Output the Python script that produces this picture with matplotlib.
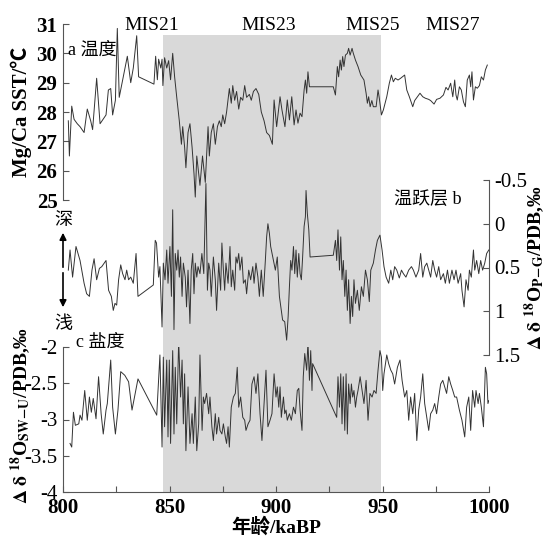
import numpy as np
import matplotlib.pyplot as plt
from matplotlib.ticker import MultipleLocator
from matplotlib.patches import FancyArrowPatch

plt.rcParams['font.family'] = ['Liberation Serif', 'Noto Sans CJK SC', 'DejaVu Sans']
plt.rcParams['mathtext.fontset'] = 'stix'

# a: Mg/Ca SST (deg C)
sst_age = [802.5, 803.0, 804.1, 805.2, 806.7, 808.0, 809.9, 811.4, 813.0, 813.9,
           815.8, 817.4, 820.2, 821.3, 822.4, 823.3, 824.6, 825.5, 826.4, 828.6,
           830.2, 831.8, 833.0, 834.6, 835.5, 842.7, 843.5, 844.3, 844.9, 845.9,
           846.5, 846.9, 847.7, 848.7, 849.6, 850.5, 851.5, 852.4, 853.4, 854.6,
           855.6, 856.2, 857.1, 857.7, 858.7, 859.6, 860.6, 861.5, 862.1, 862.8,
           863.7, 864.3, 865.5, 866.8, 868.1, 868.7, 869.6, 870.6, 871.5, 872.5,
           873.4, 874.3, 875.0, 875.9, 876.8, 878.1, 879.0, 879.7, 880.6, 881.5,
           882.5, 883.4, 884.4, 885.3, 886.2, 887.5, 888.4, 889.4, 890.6, 891.9,
           893.1, 894.4, 895.6, 896.9, 898.3, 899.1, 900.3, 901.9, 902.8, 904.2,
           905.3, 906.3, 907.4, 908.5, 909.4, 910.3, 911.3, 912.2, 913.2, 913.8,
           914.4, 915.0, 915.7, 926.9, 927.9, 928.8, 929.4, 930.1, 930.7, 931.3,
           931.9, 932.6, 933.5, 934.1, 934.8, 935.7, 936.3, 937.3, 938.5, 939.8,
           941.3, 942.3, 942.9, 943.5, 944.2, 945.0, 945.7, 947.0, 947.9, 948.5,
           949.5, 950.4, 952.0, 953.2, 954.2, 955.1, 956.0, 957.3, 958.5, 960.4,
           961.4, 962.6, 964.2, 965.1, 966.4, 967.6, 968.9, 970.1, 971.7, 972.6,
           974.2, 975.4, 977.0, 978.6, 979.8, 980.8, 982.0, 983.0, 983.9, 984.5,
           985.1, 986.1, 987.0, 988.0, 988.9, 989.8, 990.8, 991.4, 992.0, 992.7,
           993.6, 994.5, 995.5, 996.4, 997.4, 998.3, 999.2]
sst_val = [27.7, 26.5, 28.2, 27.75, 27.6, 27.5, 27.3, 28.1, 27.7, 27.4,
           29.15, 27.6, 27.9, 28.75, 28.8, 27.9, 28.4, 30.85, 28.5, 29.3,
           29.9, 29.0, 29.5, 30.6, 29.2, 28.95, 29.9, 29.1, 29.8, 29.5,
           29.8, 28.9, 29.85, 29.5, 29.75, 29.1, 30.0, 29.2, 28.5, 27.7,
           26.9, 27.5, 26.8, 26.1, 27.3, 27.6, 26.8, 25.9, 25.1, 26.5,
           25.9, 25.5, 26.5, 25.6, 27.5, 26.5, 27.3, 27.6, 26.9, 27.5,
           27.7, 27.5, 27.9, 27.6, 28.0, 28.8, 28.3, 28.9, 28.4, 28.7,
           28.1, 28.5, 28.4, 28.9, 28.5, 28.6, 28.4, 28.7, 28.8, 28.6,
           28.0, 27.7, 27.3, 27.2, 26.9, 28.41, 27.5, 28.52, 28.07, 27.5,
           28.41, 27.73, 28.52, 27.56, 28.07, 27.62, 27.96, 27.84, 28.75, 29.09,
           28.64, 29.37, 28.86, 28.86, 28.58, 29.55, 29.2, 29.77, 29.43, 29.89,
           29.55, 29.94, 30.0, 30.17, 29.94, 30.17, 30.0, 29.77, 29.55, 29.26,
           29.09, 28.64, 28.3, 28.52, 28.18, 28.39, 28.18, 28.18, 28.75, 28.47,
           27.9, 28.07, 28.52, 28.98, 29.26, 29.03, 29.15, 29.09, 29.15, 29.26,
           28.75, 28.52, 28.18, 28.39, 28.52, 28.64, 28.52, 28.47, 28.43, 28.39,
           28.27, 28.43, 28.47, 28.58, 28.84, 28.75, 28.98, 28.52, 29.09, 28.58,
           28.41, 28.86, 28.75, 28.35, 28.18, 29.09, 29.26, 28.86, 29.37, 28.41,
           28.86, 28.81, 28.9, 29.2, 29.09, 29.43, 29.6]

# b: thermocline, delta d18O P-G (permil)
thc_age = [802.5, 803.3, 804.5, 806.1, 808.0, 809.9, 811.1, 812.4, 813.6, 814.6,
           815.8, 817.1, 818.2, 820.2, 821.4, 822.7, 823.6, 824.4, 825.2, 826.1,
           827.1, 828.0, 829.1, 829.9, 830.8, 831.8, 833.0, 834.3, 835.2, 842.4,
           843.3, 843.9, 844.9, 845.5, 846.5, 847.1, 847.9, 848.7, 849.3, 850.2,
           850.9, 851.5, 852.1, 852.7, 853.4, 854.0, 854.6, 855.2, 855.9, 856.5,
           857.4, 858.0, 858.7, 859.6, 860.2, 860.9, 861.5, 862.1, 862.8, 863.4,
           864.3, 865.2, 866.1, 867.1, 867.8, 868.4, 869.0, 869.6, 870.6, 871.5,
           872.1, 873.1, 874.0, 874.6, 875.3, 875.9, 876.5, 877.5, 878.4, 879.0,
           879.7, 880.6, 881.2, 881.8, 882.5, 883.1, 884.0, 884.7, 885.6, 886.2,
           887.2, 888.1, 889.1, 889.7, 890.6, 891.5, 892.2, 893.1, 894.0, 895.0,
           895.6, 896.2, 896.9, 897.5, 898.8, 899.7, 900.6, 901.6, 902.5, 903.1,
           904.1, 905.0, 905.7, 906.3, 906.9, 907.5, 908.2, 908.8, 909.4, 910.0,
           910.7, 911.3, 911.9, 912.5, 913.2, 913.8, 914.1, 914.7, 915.4, 916.0,
           926.9, 927.9, 928.5, 929.1, 929.8, 930.4, 931.0, 931.6, 932.3, 932.9,
           933.5, 934.1, 934.8, 935.4, 936.0, 936.6, 937.3, 938.2, 939.1, 940.1,
           941.0, 942.0, 942.9, 943.8, 944.5, 945.7, 946.7, 947.6, 948.8, 949.8,
           950.7, 951.7, 952.9, 953.9, 954.8, 955.7, 956.7, 957.9, 958.9, 959.8,
           961.0, 962.3, 963.6, 964.5, 965.7, 967.0, 967.9, 968.9, 969.8, 970.8,
           971.7, 972.6, 973.6, 974.5, 975.4, 976.4, 977.3, 978.6, 979.5, 980.5,
           981.4, 982.6, 983.6, 984.5, 985.5, 986.7, 987.3, 988.3, 989.2, 990.2,
           990.8, 991.7, 992.7, 993.3, 994.2, 995.2, 996.1, 997.0, 998.0, 998.9,
           999.9]
thc_val = [0.53, 0.30, 0.61, 0.26, 0.42, 0.68, 0.80, 0.83, 0.53, 0.40,
           0.64, 0.51, 0.49, 0.42, 0.76, 0.83, 0.99, 0.91, 0.93, 0.64,
           0.47, 0.57, 0.64, 0.53, 0.64, 0.61, 0.68, 0.34, 0.83, 0.70,
           0.19, 0.22, 0.61, 0.49, 1.18, 0.45, 0.64, 0.30, 0.68, 0.26,
           0.83, -0.16, 1.21, 0.34, 0.53, 0.30, 0.61, 0.38, 0.83, 0.45,
           0.61, 0.95, 0.53, 1.14, 0.53, 0.34, 0.80, 0.45, 0.61, 0.49,
           0.57, 0.34, 0.57, -0.46, 0.76, 0.45, 0.53, 0.83, 0.38, 0.64,
           0.99, 0.45, 0.76, 0.22, 0.53, 0.76, 0.45, 0.68, 0.26, 0.72,
           0.53, 0.76, 0.38, 0.45, 0.34, 0.53, 0.38, 0.68, 0.64, 0.80,
           0.53, 0.64, 0.49, 0.68, 0.45, 0.61, 0.83, 0.53, 0.83, 0.42,
           0.15, 0.00, 0.11, 0.26, 0.42, 0.53, 0.38, 0.83, 0.99, 1.10,
           1.12, 1.33, 1.06, 0.72, 0.42, 0.53, 0.26, 0.57, 0.30, 0.61,
           0.34, 0.57, 0.64, 0.38, 0.03, -0.08, -0.38, -0.12, 0.07, 0.38,
           0.36, 0.19, 0.42, 0.07, 0.53, 0.15, 0.64, 0.42, 0.83, 0.53,
           0.99, 0.64, 1.14, 0.83, 1.06, 0.64, 0.91, 0.76, 0.99, 0.72,
           0.83, 0.53, 0.64, 0.89, 0.53, 0.45, 0.30, 0.19, 0.13, 0.30,
           0.49, 0.61, 0.68, 0.53, 0.64, 0.49, 0.53, 0.62, 0.53, 0.57,
           0.61, 0.53, 0.49, 0.53, 0.61, 0.53, 0.34, 0.61, 0.49, 0.45,
           0.53, 0.61, 0.42, 0.53, 0.61, 0.49, 0.64, 0.57, 0.68, 0.53,
           0.68, 0.53, 0.64, 0.53, 0.68, 0.57, 0.76, 0.95, 0.64, 0.76,
           0.53, 0.61, 0.30, 0.53, 0.42, 0.57, 0.42, 0.53, 0.45, 0.34,
           0.30]

# c: salinity, delta d18O SW-U (permil)
sal_age = [803.3, 804.1, 804.9, 805.8, 807.4, 808.0, 808.9, 810.2, 811.4, 812.4,
           813.3, 814.2, 815.5, 816.7, 817.9, 818.9, 820.2, 820.8, 822.4, 823.3,
           824.6, 825.8, 827.1, 829.0, 830.8, 832.4, 835.2, 844.0, 845.5, 846.5,
           847.1, 847.7, 848.7, 849.3, 849.9, 850.5, 851.5, 852.1, 852.7, 853.4,
           854.3, 855.2, 855.9, 856.5, 857.1, 857.7, 858.7, 859.6, 860.6, 861.2,
           862.1, 862.8, 863.7, 864.3, 865.3, 865.9, 866.5, 867.4, 868.4, 869.0,
           869.9, 870.6, 871.5, 872.1, 873.1, 873.7, 874.6, 875.3, 876.2, 876.8,
           877.5, 878.1, 879.0, 880.0, 880.9, 881.8, 882.5, 883.4, 884.4, 885.3,
           885.9, 886.9, 887.8, 888.7, 889.7, 890.6, 891.5, 892.5, 893.4, 894.4,
           895.3, 896.2, 897.2, 898.1, 899.1, 900.0, 900.6, 901.3, 901.9, 902.5,
           903.5, 904.1, 904.7, 905.3, 906.3, 907.2, 908.2, 909.1, 910.0, 910.7,
           911.3, 912.2, 912.8, 913.5, 914.4, 915.0, 915.7, 916.3, 916.9, 917.2,
           928.5, 929.1, 929.8, 930.4, 931.0, 931.6, 932.3, 932.9, 933.5, 934.1,
           934.8, 935.4, 936.0, 936.6, 937.3, 937.9, 938.5, 939.5, 940.4, 941.3,
           942.3, 943.2, 944.1, 945.1, 946.0, 947.0, 947.9, 948.8, 949.5, 950.1,
           950.7, 952.0, 952.9, 953.9, 954.8, 955.7, 957.0, 958.2, 959.2, 960.4,
           961.4, 962.3, 963.2, 964.2, 965.1, 966.1, 967.0, 967.9, 968.9, 969.8,
           970.8, 971.7, 972.6, 973.6, 974.5, 975.4, 976.4, 977.3, 978.3, 979.2,
           980.1, 981.1, 982.0, 983.0, 983.9, 984.8, 986.1, 987.3, 988.6, 989.5,
           990.5, 991.4, 992.3, 993.3, 993.9, 994.9, 995.5, 996.4, 997.4, 998.3,
           998.9, 999.5, 999.9]
sal_val = [-3.33, -3.38, -2.90, -3.08, -3.06, -2.94, -3.01, -2.60, -3.01, -2.69,
           -2.90, -2.71, -2.99, -2.41, -2.92, -3.20, -2.87, -2.78, -2.18, -2.83,
           -3.20, -2.87, -2.34, -2.39, -2.48, -2.87, -2.44, -2.94, -2.11, -3.38,
           -2.14, -3.10, -2.18, -3.24, -2.18, -3.33, -2.05, -3.20, -2.28, -3.06,
           -1.91, -2.69, -2.18, -3.06, -2.37, -3.43, -2.55, -3.33, -2.92, -3.33,
           -2.69, -3.43, -3.06, -2.11, -3.15, -2.69, -2.78, -2.64, -2.92, -2.69,
           -3.10, -3.29, -2.92, -3.20, -2.97, -3.15, -3.20, -3.06, -3.24, -3.33,
           -3.10, -3.38, -2.83, -2.69, -2.64, -2.28, -2.83, -2.69, -2.97, -3.01,
           -3.15, -3.06, -3.01, -2.51, -2.41, -2.64, -2.37, -2.92, -3.29, -2.78,
           -2.32, -3.10, -3.01, -2.92, -2.37, -2.69, -2.55, -2.83, -2.55, -2.97,
           -2.69, -2.92, -2.87, -3.01, -2.92, -3.01, -2.83, -2.92, -2.60, -2.57,
           -2.87, -3.15, -2.41, -2.09, -2.32, -1.93, -2.46, -2.05, -2.60, -2.23,
           -2.97, -2.41, -2.83, -2.37, -3.06, -2.41, -3.15, -2.37, -3.20, -2.51,
           -2.78, -2.51, -2.69, -2.60, -2.83, -2.69, -2.60, -2.41, -2.60, -2.78,
           -2.46, -3.01, -2.64, -2.69, -2.60, -2.64, -2.32, -2.05, -2.14, -2.60,
           -2.37, -2.11, -2.23, -2.32, -2.37, -2.51, -2.28, -2.18, -2.46, -2.69,
           -2.60, -3.01, -2.69, -2.92, -2.64, -3.29, -2.87, -2.69, -2.37, -2.78,
           -2.97, -3.15, -2.92, -2.87, -2.78, -2.92, -2.69, -2.51, -2.46, -2.55,
           -2.64, -2.41, -2.51, -2.60, -2.69, -2.69, -2.87, -3.01, -3.24, -2.83,
           -2.69, -3.15, -2.60, -2.83, -2.60, -2.78, -2.64, -2.83, -3.10, -2.28,
           -2.37, -2.78, -2.74]

shade = (847, 949.5)
mis_names = ['MIS21', 'MIS23', 'MIS25', 'MIS27']

W, H = 547, 539


def box(x0, y0, x1, y1):
    # pixel box (top-left origin) -> figure fraction rect
    return [x0 / W, 1 - y1 / H, (x1 - x0) / W, (y1 - y0) / H]


def fx(px):
    return px / W


def fy(py):
    return 1 - py / H


fig = plt.figure(figsize=(5.47, 5.39), dpi=100)

XL, XR = 63, 489
line_kw = dict(color='#333333', lw=0.7)
tick_kw = dict(direction='in', length=4, width=0.8, color='#555555')

bg = fig.add_axes(box(XL, 35, XR, 492))
bg.set_xlim(800, 1000)
bg.set_ylim(0, 1)
bg.axvspan(*shade, color='#d9d9d9', lw=0)
bg.axis('off')

# a
ax1 = fig.add_axes(box(XL, 24, XR, 200))
ax1.patch.set_visible(False)
ax1.plot(sst_age, sst_val, **line_kw)
ax1.set_xlim(800, 1000)
ax1.set_ylim(25, 31)
for s in ['top', 'right', 'bottom']:
    ax1.spines[s].set_visible(False)
ax1.spines['left'].set_color('#555555')
ax1.set_xticks([])
ax1.set_yticks(range(25, 32))
ax1.tick_params(axis='y', labelsize=15, pad=4, **tick_kw)
for t in ax1.get_yticklabels():
    t.set_fontweight('bold')
ax1.set_ylabel('Mg/Ca SST/℃', fontsize=15, fontweight='bold', labelpad=3)

# b
ax2 = fig.add_axes(box(XL, 180, XR, 355))
ax2.patch.set_visible(False)
ax2.plot(thc_age, thc_val, **line_kw)
ax2.set_xlim(800, 1000)
ax2.set_ylim(1.5, -0.5)
for s in ['top', 'left', 'bottom']:
    ax2.spines[s].set_visible(False)
ax2.spines['right'].set_color('#555555')
ax2.set_xticks([])
ax2.yaxis.tick_right()
ax2.yaxis.set_label_position('right')
ax2.set_yticks([-0.5, 0, 0.5, 1, 1.5])
ax2.set_yticklabels(['-0.5', '0', '0.5', '1', '1.5'])
ax2.tick_params(axis='y', labelsize=15, pad=4, **tick_kw)
ax2.set_ylabel(r'$\mathbf{\Delta\ \delta}$ $^{\mathbf{18}}$O$_{\mathbf{P\!-\!G}}$/PDB,‰',
               fontsize=14, fontweight='bold', rotation=90, labelpad=-4)

# c
ax3 = fig.add_axes(box(XL, 347, XR, 492))
ax3.patch.set_visible(False)
ax3.plot(sal_age, sal_val, **line_kw)
ax3.set_xlim(800, 1000)
ax3.set_ylim(-4, -2)
for s in ['top', 'right']:
    ax3.spines[s].set_visible(False)
ax3.spines['left'].set_color('#555555')
ax3.spines['bottom'].set_color('#555555')
ax3.set_yticks([-4, -3.5, -3, -2.5, -2])
ax3.set_yticklabels(['-4', '-3.5', '-3', '-2.5', '-2'])
ax3.set_xticks([800, 850, 900, 950, 1000])
ax3.xaxis.set_minor_locator(MultipleLocator(25))
ax3.tick_params(axis='both', which='both', labelsize=15, pad=4, **tick_kw)
for t in ax3.get_xticklabels():
    t.set_fontweight('bold')
ax3.set_ylabel(r'$\mathbf{\Delta\ \delta}$ $^{\mathbf{18}}$O$_{\mathbf{SW\!-\!U}}$/PDB,‰',
               fontsize=14, fontweight='bold')
ax3.yaxis.set_label_coords(-0.07, 0.53)
ax3.set_xlabel('年龄/kaBP', fontsize=14, fontweight='bold', labelpad=0)

# annotations
for name, px in zip(mis_names, [152, 269, 373, 453]):
    fig.text(fx(px), fy(25), name, fontsize=14, ha='center', va='center')
fig.text(fx(68), fy(50), 'a 温度', fontsize=13, ha='left', va='center')
fig.text(fx(394), fy(200), '温跃层 b', fontsize=13, ha='left', va='center')
fig.text(fx(76), fy(342), 'c 盐度', fontsize=13, ha='left', va='center')
fig.text(fx(63), fy(220), '深', fontsize=13, ha='center', va='center')
fig.text(fx(63), fy(324), '浅', fontsize=13, ha='center', va='center')
for end in (230, 310):
    fig.patches.append(FancyArrowPatch(
        (fx(63), fy(270)), (fx(63), fy(end)), transform=fig.transFigure,
        arrowstyle='-|>', mutation_scale=10, color='black', lw=1.2))

fig.savefig('out.png', dpi=100)
